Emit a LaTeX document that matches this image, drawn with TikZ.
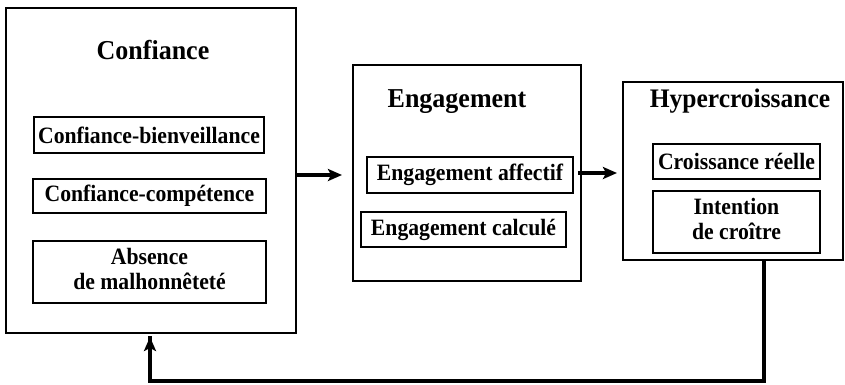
\documentclass[tikz,border=0pt]{standalone}
\usepackage{fontspec}
\usepackage{graphicx}
\setmainfont{Liberation Serif}
\usetikzlibrary{arrows.meta}
\newcommand\stt[1]{\scalebox{1}[1.08]{#1}}
\newcommand\twoline[2]{\stt{\begin{tabular}{@{}c@{}}#1\\#2\end{tabular}}}
\tikzset{
  outerbox/.style={draw, line width=1.6pt, minimum width=#1, inner sep=0pt},
  subbox/.style={draw, line width=1.6pt, inner sep=0pt, font=\fontsize{21.7}{23}\selectfont\bfseries, align=center},
  ttl/.style={font=\fontsize{26}{28}\selectfont\bfseries, anchor=base, inner sep=0pt},
  arr/.style={line width=3.5pt, -{Stealth[length=14pt,width=12pt,inset=3pt]}},
  fb/.style={line width=3.5pt}
}
\begin{document}
\begin{tikzpicture}[x=1pt,y=-1pt]
\useasboundingbox (0,0) rectangle (845,384);
% Confiance
\node[outerbox=290pt, minimum height=325pt] (conf) at (151,170.5) {};
\node[ttl] (conft) at (153,59) {\scalebox{1}[1.05]{Confiance}};
\node[subbox, minimum width=230pt, minimum height=36pt] (cb) at (149,135) {\stt{Confiance-bienveillance}};
\node[subbox, minimum width=233pt, minimum height=34pt] (cc) at (149.5,196) {\stt{Confiance-compétence}};
\node[subbox, minimum width=233pt, minimum height=62pt] (am) at (149.5,272) {\twoline{Absence}{de malhonnêteté}};
% Engagement
\node[outerbox=228pt, minimum height=216pt] (eng) at (467,173) {};
\node[ttl] (engt) at (457,107) {\scalebox{1}[1.05]{Engagement}};
\node[subbox, minimum width=206pt, minimum height=36pt] (ea) at (470,175) {\stt{Engagement affectif}};
\node[subbox, minimum width=205pt, minimum height=35pt] (ec) at (463.5,229.5) {\stt{Engagement calculé}};
% Hypercroissance
\node[outerbox=220pt, minimum height=178pt] (hyp) at (733,171) {};
\node[ttl, font=\fontsize{25.5}{28}\selectfont\bfseries] (hypt) at (740,107) {\scalebox{1}[1.05]{Hypercroissance}};
\node[subbox, minimum width=167pt, minimum height=35pt] (cr) at (736.5,161.5) {\stt{Croissance réelle}};
\node[subbox, minimum width=167pt, minimum height=62pt] (ic) at (736.5,222) {\twoline{Intention}{de croître}};
% arrows
\coordinate (a1e) at (342,175);
\coordinate (a2e) at (617,173);
\draw[arr] (conf.east |- a1e) -- (a1e);
\draw[arr] ([xshift=4pt]ea.east |- a2e) -- (a2e);
\coordinate (fbr) at (764,381);
\coordinate (fbl) at (150,381);
\coordinate (fbe) at (150,337);
\draw[fb, line join=miter] (hyp.south -| fbr) -- (fbr) -- (fbl) -- ([yshift=1pt]fbe);
\draw[arr] (fbl) -- (fbe);
\end{tikzpicture}
\end{document}
